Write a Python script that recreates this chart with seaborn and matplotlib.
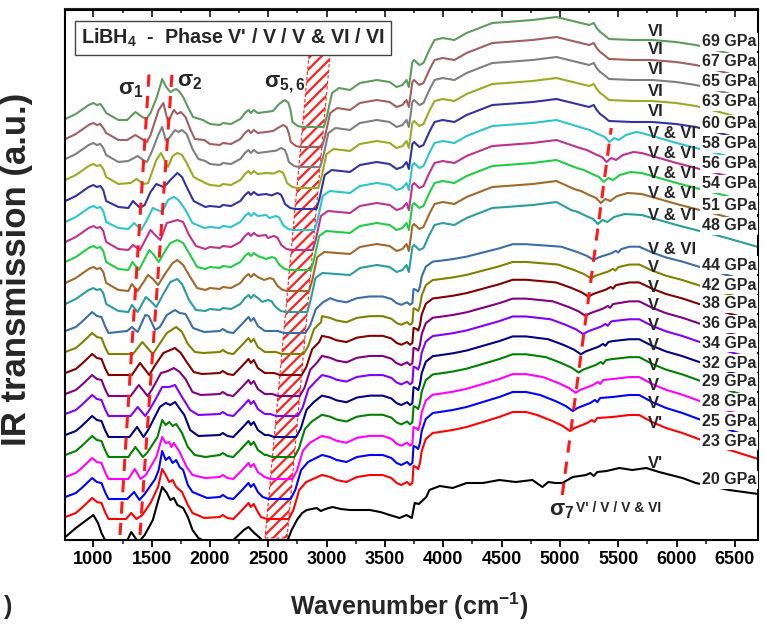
import matplotlib
matplotlib.use("Agg")
import matplotlib.pyplot as plt
from matplotlib.patches import Polygon
from matplotlib.ticker import MultipleLocator
import numpy as np
import pandas as pd
import seaborn as sns

# ---------------- data ----------------
pressures = ["20 GPa", "23 GPa", "25 GPa", "28 GPa", "29 GPa", "32 GPa", "34 GPa",
             "36 GPa", "38 GPa", "42 GPa", "44 GPa", "48 GPa", "51 GPa", "54 GPa",
             "56 GPa", "58 GPa", "60 GPa", "63 GPa", "65 GPa", "67 GPa", "69 GPa"]
colors = ["#000000", "#ff0000", "#0000ff", "#ff00ff", "#008000", "#000080", "#8000ff",
          "#800080", "#800000", "#808000", "#3a6ea5", "#2a9d9d", "#a0692a", "#22cc44",
          "#c0308f", "#2ec4cc", "#3333a0", "#9aaa22", "#7f7f7f", "#a06060", "#5f9a5f"]
phases = ["V'", "V'", "V", "V", "V", "V", "V", "V", "V", "V", "V & VI", "V & VI",
          "V & VI", "V & VI", "V & VI", "V & VI", "VI", "VI", "VI", "VI", "VI"]
groups = ["black"] + ["low"] * 10 + ["mix"] * 5 + ["vi"] * 5
baseline = [0, 21, 41, 61, 83, 103, 124, 144, 165, 186, 207, 228, 249, 270, 290, 310,
            331, 352, 373, 393, 413]
label_y = [60, 99, 119, 138, 158, 177, 197, 216, 236, 255, 275, 314, 335, 356, 376,
           396, 416, 438, 458, 478, 498]
phase_y = [77, 116, 137, 155, 175, 194, 214, 234, 253, 272, 291, 325, 347, 367, 387,
           407, 428, 449, 470, 490, 509]
flat_lo = [0, 2487, 2502, 2518, 2535, 2551, 2567, 2583, 2599, 2615, 2632, 2648, 2664,
           2681, 2696, 2712, 2728, 2745, 2761, 2777, 2792]
flat_hi = [0, 2675, 2691, 2707, 2723, 2738, 2754, 2770, 2786, 2802, 2818, 2834, 2850,
           2866, 2881, 2897, 2913, 2929, 2945, 2960, 2976]
gain = [1, 1.0, 1.0, 0.98, 0.96, 0.94, 0.93, 0.91, 0.89, 0.86, 0.83,
        1, 1, 1, 1, 1, 1, 1, 1, 1, 1]
s7_pos = [0, 5085, 5110, 5135, 5160, 5180, 5200, 5220, 5245, 5265, 5290, 5325, 5350,
          5375, 5400, 5425, 5420, 5420, 5420, 5420, 5420]
s56_peak = [0] * 11 + [12, 13, 13, 14, 14, 16, 17, 19, 22, 27]

# 20 GPa spectrum (absolute)
black_wn = [760, 850, 1000, 1040, 1070, 1100, 1130, 1280, 1325, 1360, 1390, 1440, 1510,
            1550, 1590, 1630, 1660, 1690, 1720, 1770, 1810, 1850, 1900, 1950, 2100, 2200,
            2290, 2330, 2380, 2430, 2480, 2650, 2700, 2745, 2790, 2830, 2915, 2950, 2990,
            3050, 3120, 3200, 3370, 3460, 3540, 3625, 3685, 3730, 3755, 3790, 3855, 3880,
            3970, 4080, 4200, 4340, 4480, 4620, 4765, 4800, 4850, 4900, 4960, 5020, 5110,
            5225, 5260, 5290, 5320, 5400, 5510, 5620, 5740, 5850, 5950, 6050, 6165, 6450,
            6700]
black_y = [3, 12, 25, 17, 7, 0, -3, -3, 8, 2, -2, 5, 20, 37, 53, 47, 40, 42, 35, 32, 23,
           10, 2, -1, -2, 0, 10, 13, 7, 2, -5, -5, 10, 20, 27, 30, 32, 29, 31, 33, 31, 30,
           30, 28, 25, 22, 25, 22, 37, 36, 43, 50, 54, 52, 57, 57, 60, 58, 60, 57, 53, 58,
           57, 57, 63, 65, 67, 64, 68, 69, 72, 70, 72, 68, 65, 62, 57, 50, 46]

# shared pieces, heights relative to each trace's saturated floor
low_head = [(760, 2), (850, 6), (900, 11), (990, 21), (1030, 17), (1070, 16), (1100, 7)]
low_mid = [(2085, 2), (2110, 4), (2150, 1), (2200, 0), (2275, 9), (2330, 16), (2350, 12),
           (2375, 15), (2410, 7), (2470, 2)]
low_rise = [(40, 9), (90, 29), (150, 37)]
low_plateau = [(2960, 44), (3030, 42), (3085, 39), (3170, 37), (3260, 42), (3370, 44),
               (3480, 44), (3555, 41), (3600, 36), (3640, 34), (3690, 37), (3715, 34),
               (3735, 36), (3745, 53), (3765, 52), (3785, 50), (3800, 56), (3815, 68),
               (3850, 80), (3910, 86), (3970, 87), (4080, 89), (4200, 92), (4340, 97),
               (4480, 102), (4595, 107), (4710, 107)]
low_s7 = [(-280, 104), (-150, 98), (-60, 93), (0, 88), (40, 91), (150, 96), (190, 99),
          (210, 97), (235, 101)]
low_tail = [(5450, 102), (5595, 104), (5680, 104), (5790, 97), (5910, 91), (6050, 86),
            (6165, 81), (6400, 71), (6700, 60)]

high_head = [(760, 8), (850, 13), (960, 22), (1000, 24), (1030, 22), (1060, 23), (1085, 19)]
high_mid = [(2000, 3), (2085, 2), (2110, 4), (2180, 3), (2260, 8), (2300, 14), (2330, 17),
            (2350, 14), (2375, 17), (2410, 14), (2480, 15), (2540, 16)]
high_rise = [(25, 10), (70, 34), (130, 39)]
high_plateau = [(3200, 37), (3285, 44), (3430, 47), (3540, 45), (3600, 40), (3650, 42),
                (3685, 47), (3705, 40), (3735, 65), (3750, 67), (3795, 62), (3830, 64),
                (3880, 77), (3925, 87), (3995, 89), (4095, 87), (4200, 94), (4420, 104),
                (4540, 105), (4765, 107), (4970, 110)]
mix_s7 = [(-230, 102), (-170, 100), (-100, 96), (-40, 93), (0, 88), (40, 92), (80, 90),
          (140, 95), (230, 98)]
mix_tail = [(5700, 97), (5850, 92), (6000, 87), (6165, 82), (6400, 75), (6700, 65)]
vi_s7 = [(-170, 102), (-130, 104), (-105, 99), (-75, 95), (-40, 92), (0, 88), (200, 87)]
vi_tail = [(5790, 87), (5995, 85), (6165, 82), (6400, 75), (6700, 65)]

left_features = {
    "23 GPa": [(1130, 0), (1280, 0), (1325, 6), (1370, 0), (1420, 4), (1490, 16), (1555, 32), (1590, 50), (1620, 44), (1650, 37), (1680, 39), (1710, 32), (1760, 27), (1810, 14), (1850, 6), (1950, 1)],
    "25 GPa": [(1130, 0), (1290, 0), (1350, 7), (1395, -1), (1440, 5), (1530, 20), (1560, 29), (1590, 48), (1620, 39), (1650, 42), (1680, 36), (1710, 39), (1740, 32), (1770, 29), (1810, 14), (1850, 7), (1975, 1)],
    "28 GPa": [(1130, 0), (1300, 0), (1355, 10), (1405, 0), (1450, 4), (1540, 22), (1590, 42), (1620, 36), (1650, 37), (1670, 32), (1690, 36), (1740, 27), (1800, 12), (1850, 4), (1960, 1)],
    "29 GPa": [(1130, 0), (1300, 0), (1360, 10), (1425, 0), (1460, 4), (1550, 20), (1590, 37), (1620, 32), (1650, 35), (1680, 31), (1710, 33), (1760, 24), (1810, 10), (1870, 2), (1960, 0)],
    "32 GPa": [(1130, 0), (1310, 0), (1375, 10), (1430, 0), (1470, 7), (1570, 30), (1620, 34), (1660, 32), (1700, 35), (1730, 30), (1780, 22), (1830, 7), (1900, 1)],
    "34 GPa": [(1130, 0), (1320, 0), (1380, 9), (1445, 0), (1480, 6), (1530, 16), (1590, 29), (1650, 29), (1700, 31), (1760, 19), (1830, 6), (1900, 1)],
    "36 GPa": [(1130, 0), (1320, 0), (1390, 11), (1465, 0), (1500, 6), (1580, 23), (1640, 25), (1690, 28), (1740, 24), (1790, 17), (1850, 4), (1920, 1)],
    "38 GPa": [(1130, 0), (1330, 0), (1400, 12), (1480, 0), (1520, 8), (1600, 22), (1700, 27), (1750, 22), (1800, 13), (1860, 3), (1930, 1)],
    "42 GPa": [(1130, 0), (1340, 0), (1420, 12), (1510, 0), (1550, 7), (1630, 21), (1710, 27), (1760, 22), (1810, 10), (1870, 2), (1940, 1)],
    "44 GPa": [(1130, 0), (1290, 2), (1330, 6), (1380, 1), (1445, 18), (1475, 17), (1530, 3), (1570, 6), (1630, 18), (1700, 23), (1740, 20), (1790, 19), (1855, 5), (1950, 1)],
    "48 GPa": [(1110, 8), (1215, 1), (1300, 0), (1330, 7), (1380, 0), (1450, 15), (1490, 11), (1540, 5), (1600, 18), (1660, 30), (1720, 33), (1760, 28), (1820, 12), (1880, 2), (1960, 1)],
    "51 GPa": [(1110, 8), (1215, 1), (1300, 0), (1330, 7), (1380, 0), (1470, 16), (1510, 12), (1555, 6), (1620, 18), (1680, 28), (1720, 31), (1770, 26), (1830, 14), (1890, 3), (1960, 1)],
    "54 GPa": [(1110, 8), (1215, 1), (1300, 0), (1335, 8), (1390, 0), (1480, 20), (1520, 15), (1560, 8), (1620, 20), (1660, 27), (1720, 30), (1770, 27), (1830, 15), (1890, 3), (1960, 1)],
    "56 GPa": [(1110, 8), (1215, 1), (1300, 0), (1340, 5), (1400, 0), (1490, 20), (1530, 15), (1575, 10), (1630, 27), (1720, 30), (1770, 28), (1820, 15), (1880, 4), (1960, 1)],
    "58 GPa": [(1110, 8), (1215, 2), (1300, 1), (1350, 7), (1410, 0), (1460, 10), (1510, 22), (1590, 18), (1640, 30), (1690, 33), (1730, 30), (1790, 20), (1850, 7), (1950, 2)],
    "60 GPa": [(1110, 8), (1215, 2), (1300, 1), (1340, 8), (1400, 1), (1440, 4), (1490, 17), (1540, 25), (1600, 22), (1630, 25), (1660, 29), (1720, 36), (1760, 32), (1800, 22), (1860, 8), (1960, 2)],
    "63 GPa": [(1110, 11), (1215, 4), (1320, 5), (1370, 9), (1430, 4), (1470, 5), (1540, 28), (1580, 35), (1610, 28), (1640, 21), (1680, 32), (1720, 35), (1760, 33), (1800, 25), (1860, 11), (1960, 5)],
    "65 GPa": [(1110, 12), (1215, 5), (1300, 6), (1380, 11), (1440, 6), (1460, 5), (1500, 15), (1560, 33), (1590, 40), (1620, 27), (1650, 29), (1700, 37), (1730, 35), (1760, 37), (1800, 33), (1850, 18), (1900, 8), (1960, 6)],
    "67 GPa": [(1110, 14), (1215, 7), (1290, 7), (1360, 12), (1430, 7), (1460, 5), (1490, 12), (1560, 37), (1600, 44), (1640, 25), (1690, 37), (1720, 33), (1750, 35), (1790, 30), (1830, 18), (1870, 8), (1950, 7)],
    "69 GPa": [(1110, 14), (1215, 7), (1290, 7), (1360, 15), (1420, 10), (1455, 8), (1490, 14), (1545, 30), (1590, 48), (1625, 40), (1660, 35), (1690, 37), (1710, 38), (1740, 35), (1770, 30), (1810, 20), (1855, 10), (1940, 7)],
}

# annotation geometry (wavenumber, height)
sigma1_line = ([1229, 1478], [5, 467])
sigma2_line = ([1400, 1675], [5, 467])
sigma7_line = ([5020, 5440], [45, 412])
band_wn = [2472, 2661, 3029, 2849]
band_y = [2, 2, 485, 485]


def assemble(i):
    g = groups[i]
    if g == "black":
        return list(black_wn), list(black_y)
    p = pressures[i]
    lo, hi, s7, gr = flat_lo[i], flat_hi[i], s7_pos[i], gain[i]
    if g == "low":
        pts = list(low_head) + left_features[p]
        pts += [q for q in low_mid if q[0] < lo - 60]
        pts += [(lo - 50, 2), (lo, 0), (hi, 0)]
        right = [(hi + d, v) for d, v in low_rise]
        s7set, tail, plat = low_s7, low_tail, low_plateau
    else:
        pk = s56_peak[i]
        pts = list(high_head) + left_features[p]
        pts += [q for q in high_mid if q[0] < lo - 210]
        pts += [(lo - 200, pk * 0.85), (lo - 150, pk), (lo - 120, pk * 0.9),
                (lo - 100, pk * 0.6), (lo - 85, 5), (lo - 40, 1), (lo, 0), (hi, 0)]
        right = [(hi + d, v) for d, v in high_rise]
        plat = high_plateau
        s7set, tail = (mix_s7, mix_tail) if g == "mix" else (vi_s7, vi_tail)
    last = right[-1][0]
    first7 = s7 + s7set[0][0]
    right += [q for q in plat if last < q[0] < first7]
    right += [(s7 + d, v) for d, v in s7set]
    last7 = s7 + s7set[-1][0]
    right += [q for q in tail if q[0] > last7]
    pts += [(w, v * gr) for w, v in right]
    pts.sort(key=lambda t: t[0])
    wn = [t[0] for t in pts]
    y = [baseline[i] + t[1] for t in pts]
    return wn, y


frames = []
for i, p in enumerate(pressures):
    wn, y = assemble(i)
    frames.append(pd.DataFrame({"wn": wn, "y": y, "trace": p}))
df = pd.concat(frames, ignore_index=True)

# ---------------- style ----------------
sns.set_theme(style="ticks")
plt.rcParams["font.family"] = ["Liberation Sans", "DejaVu Sans"]
plt.rcParams["font.weight"] = "bold"
plt.rcParams["mathtext.fontset"] = "custom"
plt.rcParams["mathtext.rm"] = "Liberation Sans:bold"
plt.rcParams["mathtext.bf"] = "Liberation Sans:bold"
plt.rcParams["mathtext.it"] = "Liberation Sans:bold"
plt.rcParams["hatch.linewidth"] = 1.6
plt.rcParams["axes.linewidth"] = 1.5

fig = plt.figure(figsize=(7.65, 6.24), dpi=100)
ax = fig.add_axes([65 / 765, 1 - 540 / 624, 693 / 765, 530.5 / 624])

# hatched sigma 5,6 band
band = Polygon(list(zip(band_wn, band_y)), closed=True, facecolor="white",
               edgecolor="#ff2020", hatch="///", linestyle=(0, (3, 2)), linewidth=0.8,
               zorder=1.5)
ax.add_patch(band)

palette = dict(zip(pressures, colors))
sns.lineplot(data=df, x="wn", y="y", hue="trace", palette=palette, estimator=None,
             sort=False, legend=False, linewidth=1.5, ax=ax, zorder=2)

for xs, ys in (sigma1_line, sigma2_line, sigma7_line):
    ax.plot(xs, ys, color="#ff1a1a", lw=2.2, dashes=(4, 3), zorder=3,
            solid_capstyle="butt", dash_capstyle="butt")

# labels for traces
for i, p in enumerate(pressures):
    ax.text(6218, label_y[i], p, fontsize=11.5, fontweight="bold", ha="left",
            va="center", zorder=5,
            bbox=dict(facecolor="white", edgecolor="none", pad=1.2))
    ax.text(5755, phase_y[i], phases[i], fontsize=12, fontweight="bold", ha="left",
            va="center", zorder=4)

ax.text(1325, 450, r"σ$_1$", fontsize=16, ha="center", va="center", zorder=4)
ax.text(1830, 458, r"σ$_2$", fontsize=16, ha="center", va="center", zorder=4)
ax.text(2644, 456, r"σ$_{5,6}$", fontsize=16, ha="center", va="center", zorder=4)
ax.text(4905, 30, r"σ$_7$", fontsize=16, ha="left", va="center", zorder=4)
ax.text(5140, 32, "V' / V / V & VI", fontsize=10, ha="left", va="center", zorder=4)

ax.text(0.2424, 0.947, r"LiBH$_4$  -  Phase V' / V / V & VI / VI", transform=ax.transAxes,
        fontsize=14.2, ha="center", va="center", zorder=6,
        bbox=dict(boxstyle="square,pad=0.3", facecolor="white", edgecolor="#444444",
                  linewidth=1.0))

ax.set_xlim(757, 6698)
ax.set_ylim(0, 530.5)
ax.xaxis.set_major_locator(MultipleLocator(500))
ax.xaxis.set_minor_locator(MultipleLocator(250))
ax.set_yticks([])
ax.tick_params(axis="x", which="major", direction="out", length=5, width=1.3,
               labelsize=13, pad=3, colors="black")
ax.tick_params(axis="x", which="minor", direction="out", length=3, width=1.2)
for lab in ax.get_xticklabels():
    lab.set_fontweight("bold")

top = ax.secondary_xaxis("top")
top.xaxis.set_major_locator(MultipleLocator(500))
top.xaxis.set_minor_locator(MultipleLocator(250))
top.tick_params(which="major", direction="in", length=6, width=1.3, labeltop=False)
top.tick_params(which="minor", direction="in", length=3, width=1.2)
top.spines["top"].set_linewidth(1.5)

for s in ax.spines.values():
    s.set_color("black")
    s.set_linewidth(1.5)

ax.set_xlabel(r"Wavenumber (cm$^{-1}$)", fontsize=18, fontweight="bold")
ax.xaxis.set_label_coords(0.496, -0.095)
ax.set_ylabel("IR transmission (a.u.)", fontsize=25, fontweight="bold")
ax.yaxis.set_label_coords(-0.046, 0.51)

fig.text(8 / 765, 1 - 607 / 624, ")", fontsize=18, fontweight="bold", ha="center",
         va="center")

fig.savefig("out.png", dpi=100)
